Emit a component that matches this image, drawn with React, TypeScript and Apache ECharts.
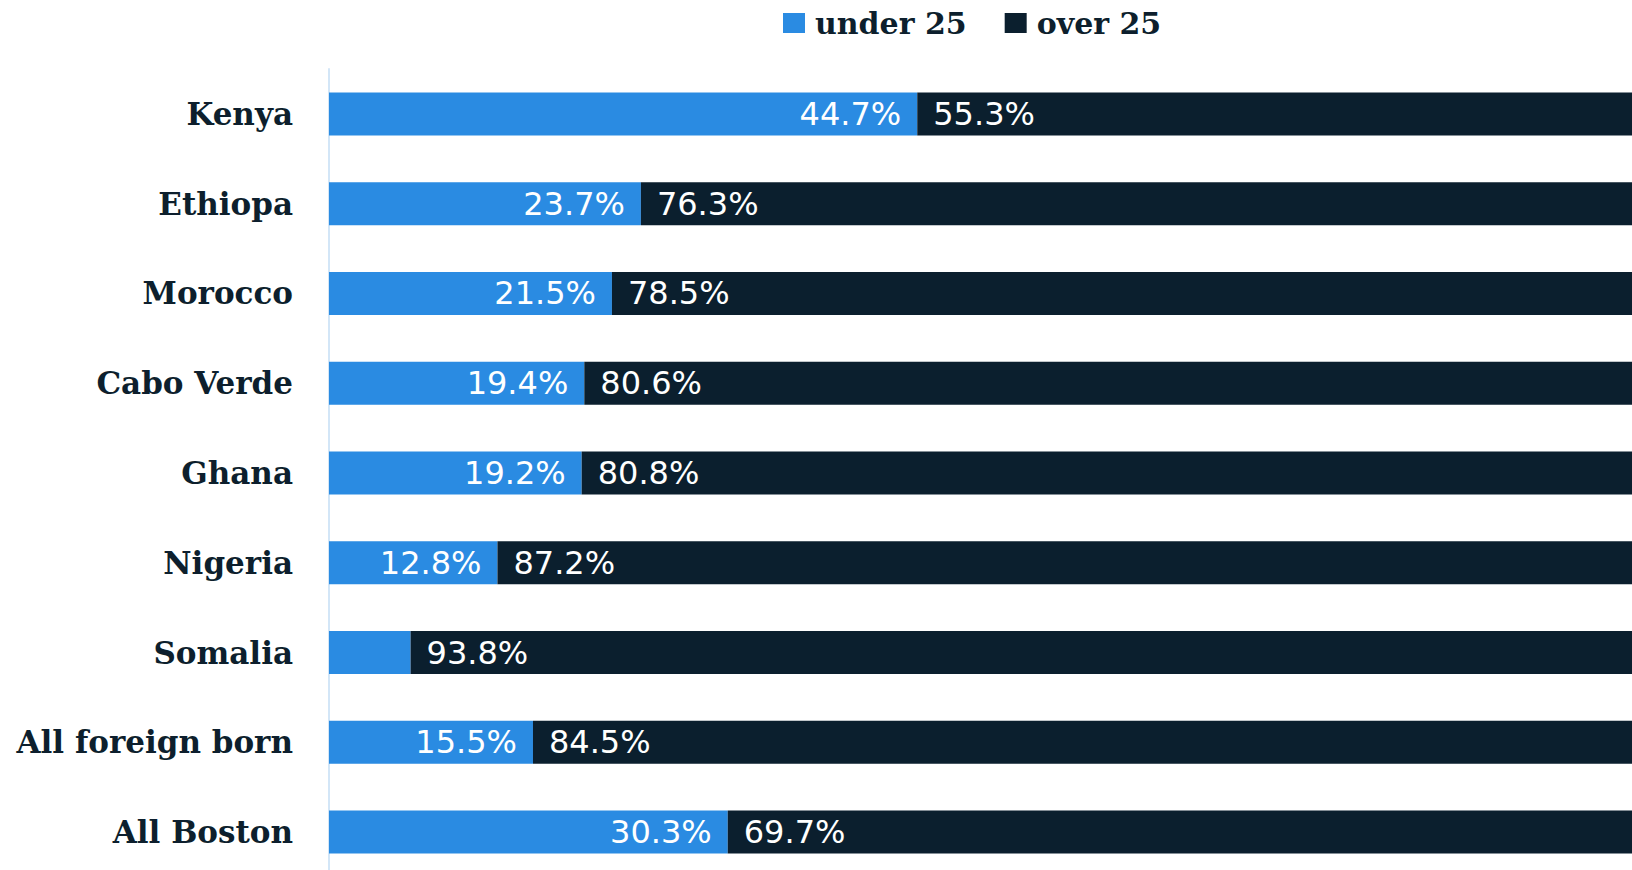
import React, { useEffect, useRef } from "react";
import * as echarts from "echarts";

const categories = [
  "Kenya",
  "Ethiopa",
  "Morocco",
  "Cabo Verde",
  "Ghana",
  "Nigeria",
  "Somalia",
  "All foreign born",
  "All Boston",
];
const under25 = [44.7, 23.7, 21.5, 19.4, 19.2, 12.8, 6.2, 15.5, 30.3];
const over25 = [55.3, 76.3, 78.5, 80.6, 80.8, 87.2, 93.8, 84.5, 69.7];
const seriesNames = ["under 25", "over 25"];

const BLUE = "#2a8be2";
const NAVY = "#0b1f2e";
const TEXT = "#0d1f2d";

export default function App() {
  const ref = useRef<HTMLDivElement>(null);
  useEffect(() => {
    if (!ref.current) return;
    const chart = echarts.init(ref.current, null, { renderer: "svg" });
    const valueLabel = (pos: string, dist: number) => ({
      show: true,
      position: pos,
      distance: dist,
      color: "#ffffff",
      fontFamily: "DejaVu Sans",
      fontSize: 32,
      formatter: (p: any) => (p.value < 8 ? "" : `${p.value}%`),
    });
    chart.setOption({
      animation: false,
      backgroundColor: "#ffffff",
      legend: {
        data: seriesNames,
        left: 783,
        top: 8,
        padding: 0,
        icon: "rect",
        itemWidth: 22,
        itemHeight: 20,
        itemGap: 38,
        textStyle: {
          fontFamily: "DejaVu Serif",
          fontWeight: "bold",
          fontSize: 30,
          color: TEXT,
          padding: [0, 0, 0, 5],
        },
      },
      grid: { left: 329, top: 69, width: 1316, height: 808, containLabel: false },
      xAxis: {
        type: "value",
        min: 0,
        max: 100,
        show: false,
      },
      yAxis: {
        type: "category",
        data: categories,
        inverse: true,
        axisLine: { show: true, lineStyle: { color: "#d3e6f7", width: 2 } },
        axisTick: { show: false },
        splitLine: { show: false },
        axisLabel: {
          margin: 36,
          fontFamily: "DejaVu Serif",
          fontWeight: "bold",
          fontSize: 31,
          color: TEXT,
        },
      },
      series: [
        {
          name: seriesNames[0],
          type: "bar",
          stack: "total",
          barWidth: 43,
          data: under25,
          itemStyle: { color: BLUE },
          label: valueLabel("insideRight", 16),
        },
        {
          name: seriesNames[1],
          type: "bar",
          stack: "total",
          barWidth: 43,
          data: over25,
          itemStyle: { color: NAVY },
          label: valueLabel("insideLeft", 16),
        },
      ],
    });
    return () => chart.dispose();
  }, []);
  return (
    <div
      ref={ref}
      style={{ position: "fixed", left: 0, top: 0, width: 1660, height: 900 }}
    />
  );
}
